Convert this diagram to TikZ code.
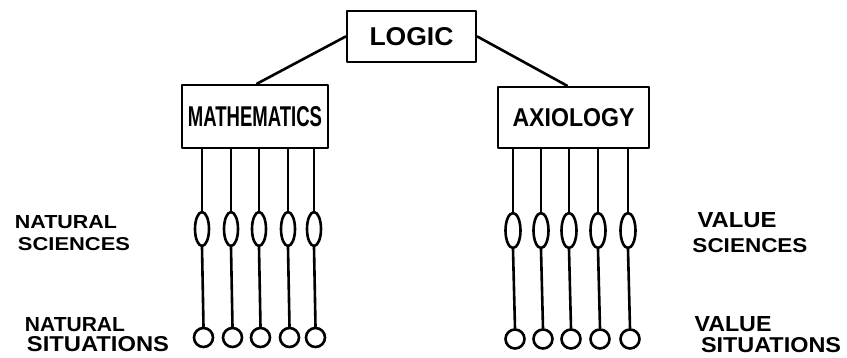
\documentclass[tikz,border=0pt]{standalone}
\usepackage{fontspec}
\usepackage{graphicx}
\newfontfamily\handfont{Liberation Sans}
\usetikzlibrary{shapes.geometric,calc}
\newcommand\hw[3]{\resizebox{#1pt}{#2pt}{\handfont #3}}
\tikzset{
  ink/.style={line width=2.6pt, line cap=round, line join=round},
  box/.style={draw, ink, rectangle, inner sep=0pt},
  lens/.style={draw, ink, ellipse, inner sep=0pt, minimum width=14pt, minimum height=34pt},
  dot/.style={draw, ink, circle, inner sep=0pt, minimum size=19pt},
  lbl/.style={inner sep=0pt, anchor=center}
}
\begin{document}
\begin{tikzpicture}[x=1pt,y=-1pt]
\useasboundingbox (0,0) rectangle (847,358);
% boxes
\node[box, minimum width=129pt, minimum height=51pt] (logic) at (411.5,36.5) {\hw{84}{18}{\bfseries LOGIC}};
\node[box, minimum width=146pt, minimum height=63pt] (math) at (255,116.5) {\raisebox{-5pt}{\hw{134}{20}{\bfseries MATHEMATICS}}};
\node[box, minimum width=151pt, minimum height=61pt] (axio) at (573.5,117.5) {\raisebox{-3pt}{\hw{122}{18}{\bfseries AXIOLOGY}}};
% connectors from LOGIC
\draw[ink] (logic.west) -- ($(math.north)+(2,0)$);
\draw[ink] (logic.east) -- ($(axio.north)+(-6.5,0)$);
% left branch
\foreach \i/\x in {1/202,2/231,3/259,4/288,5/314}{
  \node[lens] (ml\i) at (\x,229) {};
  \node[dot] (mc\i) at (\x+1.5,337.5) {};
  \draw[ink] (ml\i.north |- math.south) -- (ml\i.north);
  \draw[ink] (ml\i.south) -- (mc\i.north);
}
% right branch
\foreach \i/\x in {1/513,2/541,3/569,4/598,5/628}{
  \node[lens, minimum width=15pt, minimum height=35pt] (al\i) at (\x,230.5) {};
  \node[dot] (ac\i) at (\x+2,339) {};
  \draw[ink] (al\i.north |- axio.south) -- (al\i.north);
  \draw[ink] (al\i.south) -- (ac\i.north);
}
% side labels
\node[lbl] (nat1) at (66,222.5) {\hw{102}{13}{\bfseries NATURAL}};
\node[lbl] (sci1) at (74,244) {\hw{112}{13}{\bfseries SCIENCES}};
\node[lbl] (nat2) at (75,325) {\hw{100}{14}{\bfseries NATURAL}};
\node[lbl] (sit1) at (98,344) {\hw{142}{15}{\bfseries SITUATIONS}};
\node[lbl] (val1) at (737,220.5) {\hw{79}{15}{\bfseries VALUE}};
\node[lbl] (sci2) at (750,245.5) {\hw{115}{14}{\bfseries SCIENCES}};
\node[lbl] (val2) at (733,324.5) {\hw{77}{15}{\bfseries VALUE}};
\node[lbl] (sit2) at (771,345.5) {\hw{140}{15}{\bfseries SITUATIONS}};
\end{tikzpicture}
\end{document}
